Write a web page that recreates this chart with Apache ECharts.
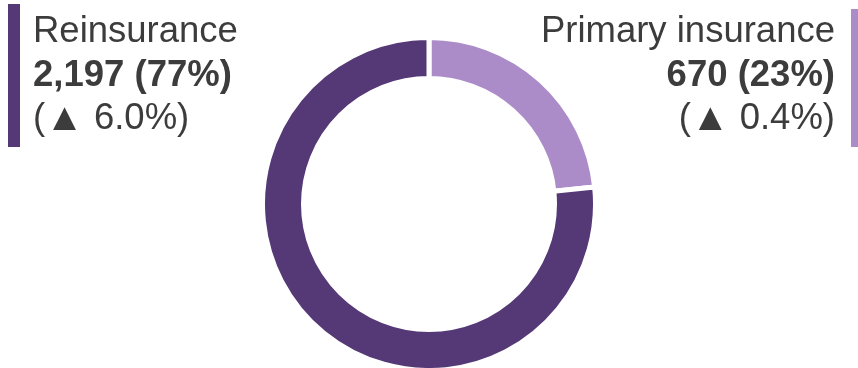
<!DOCTYPE html>
<html>
<head>
<meta charset="utf-8">
<script src="https://cdn.jsdelivr.net/npm/echarts@6/dist/echarts.min.js"></script>
<style>
  html, body { margin: 0; padding: 0; background: #ffffff; }
  #chart { width: 858px; height: 368px; }
</style>
</head>
<body>
<div id="chart"></div>
<script>
// Segment names, values (EUR m), year-on-year changes and colours
const segments = ['Primary insurance', 'Reinsurance'];
const values = [670, 2197];
const changes = ['0.4%', '6.0%'];
const colors = ['#ab8cc8', '#553876'];

const TEXT = '#3c3c3c';
const FONT = '"Liberation Sans", Arial, sans-serif';
const SIZE = 36.5;
const total = values.reduce((a, b) => a + b, 0);
const pct = v => Math.round(v / total * 100) + '%';
const fmt = v => v.toLocaleString('en-US');

// Three stacked lines: name, value with share, change with an up arrow
function labelBlock(i, x, align) {
  const base = { fill: TEXT, fontFamily: FONT, fontSize: SIZE, align: align, verticalAlign: 'middle' };
  const y0 = 32, step = 43.5;
  return [
    { type: 'text', x: x, y: y0, style: Object.assign({}, base, { text: segments[i] }) },
    { type: 'text', x: x, y: y0 + step, style: Object.assign({}, base, {
        text: fmt(values[i]) + ' (' + pct(values[i]) + ')', fontWeight: 'bold' }) },
    { type: 'text', x: x, y: y0 + 2 * step, style: Object.assign({}, base, {
        text: '(' + '{tri|\u25B2}' + ' ' + changes[i] + ')',
        rich: { tri: { fontFamily: FONT, fontSize: 39, fill: TEXT } } }) }
  ];
}

const chart = echarts.init(document.getElementById('chart'), null, { renderer: 'canvas' });
chart.setOption({
  animation: false,
  backgroundColor: '#ffffff',
  series: [{
    type: 'pie',
    center: [429, 204],
    radius: [125.5, 166.5],
    startAngle: 90,
    clockwise: true,
    label: { show: false },
    labelLine: { show: false },
    emphasis: { disabled: true },
    itemStyle: { borderColor: '#ffffff', borderWidth: 5 },
    data: segments.map((s, i) => ({ name: s, value: values[i], itemStyle: { color: colors[i] } }))
  }],
  graphic: [
    { type: 'rect', shape: { x: 8, y: 4, width: 12, height: 143 }, style: { fill: colors[1] } },
    { type: 'rect', shape: { x: 851, y: 9, width: 12, height: 138 }, style: { fill: colors[0] } },
    ...labelBlock(1, 33, 'left'),
    ...labelBlock(0, 835, 'right')
  ]
});
</script>
</body>
</html>
